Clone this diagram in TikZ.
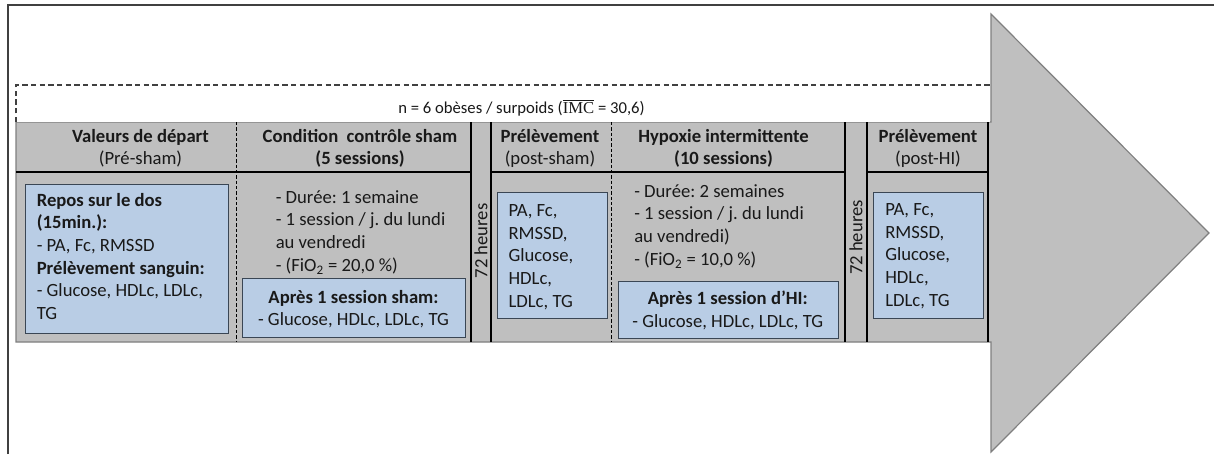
\documentclass[tikz,border=0pt]{standalone}
\usepackage{fontspec}
\setmainfont{Carlito}
\newfontfamily\serifimc{Liberation Serif}
\usetikzlibrary{fit}
\definecolor{arrowgray}{HTML}{BFBFBF}
\definecolor{edgegray}{HTML}{7F7F7F}
\definecolor{boxblue}{HTML}{B9CDE5}
\definecolor{boxedge}{HTML}{3A4654}
\definecolor{framegray}{HTML}{404040}
\tikzset{
  txt/.style={font=\frenchspacing\fontsize{14}{17}\selectfont, inner sep=0pt, text=black!90},
  bodytxt/.style={txt, align=left, anchor=north west},
  headtxt/.style={txt, align=center, anchor=north},
  bluebox/.style={draw=boxedge, fill=boxblue, line width=0.75pt, inner sep=0pt},
  solidsep/.style={line width=1.1pt, black},
  dashsep/.style={line width=0.75pt, black, dash pattern=on 2.5pt off 1.5pt},
}
\begin{document}
\begin{tikzpicture}[x=0.75pt,y=-0.75pt]
\useasboundingbox (0,0) rectangle (1214,454);
% outer frame
\draw[framegray, line width=1.1pt] (8,454) -- (8,5) -- (1214,5);
% big arrow
\draw[fill=arrowgray, draw=edgegray, line width=0.9pt]
  (16,122) -- (991,122) -- (991,14) -- (1209,233) -- (991,452) -- (991,342) -- (16,342) -- cycle;
% white dashed band
\fill[white] (16,85) rectangle (990.4,121.6);
\draw[framegray, line width=1.4pt, dash pattern=on 4pt off 2.5pt] (16,122) -- (16,85) -- (991,85);
\node[txt, font=\frenchspacing\fontsize{12.5}{15}\selectfont, anchor=base] (pop) at (521.5,113) {n = 6 obèses / surpoids ($\overline{\hbox{\serifimc IMC}}$ = 30,6)};
% header lines
\draw[solidsep] (16,172) -- (471,172);
\draw[solidsep] (491,172) -- (845,172);
\draw[solidsep] (867,172) -- (988,172);
% column separators
\foreach \xx in {471,491,845,867,988} \draw[solidsep] (\xx,122) -- (\xx,342);
\foreach \xx in {236,611} \draw[dashsep] (\xx,122) -- (\xx,342);
% headers
\node[headtxt] (h1) at (140.5,126.1) {\strut\textbf{Valeurs de départ}\\(Pré-sham)};
\node[headtxt] (h2) at (360,126.1) {\strut\textbf{Condition~ contrôle sham}\\\textbf{(5 sessions)}};
\node[headtxt] (h3) at (550,126.1) {\strut\textbf{Prélèvement}\\(post-sham)};
\node[headtxt] (h4) at (723.5,126.1) {\strut\textbf{Hypoxie intermittente}\\\textbf{(10 sessions)}};
\node[headtxt] (h5) at (928,126.1) {\strut\textbf{Prélèvement}\\(post-HI)};
% 72 heures
\node[txt, rotate=90] (w1) at (481,241) {72 heures};
\node[txt, rotate=90] (w2) at (856,237.5) {72 heures};
% blue boxes
\node[bluebox, fit={(25,184)(228,333)}] (b1) {};
\node[bluebox, fit={(242,278)(465,337)}] (b2) {};
\node[bluebox, fit={(497,192)(607,318)}] (b3) {};
\node[bluebox, fit={(618,281)(838,338)}] (b4) {};
\node[bluebox, fit={(873,192)(983,318)}] (b5) {};
% body texts
\node[bodytxt] (t1) at (36.5,190.1) {\strut\textbf{Repos sur le dos}\\\textbf{(15min.):}\\- PA, Fc, RMSSD\\\textbf{Prélèvement sanguin:}\\- Glucose, HDLc, LDLc,\\TG};
\node[bodytxt] (t2) at (275.5,187.1) {\strut- Durée: 1 semaine\\- 1 session / j. du lundi\\au vendredi\\- (FiO\textsubscript{2} = 20,0 \%)};
\node[headtxt] (t2b) at (353.5,286.9) {\strut\textbf{Après 1 session sham:}\\- Glucose, HDLc, LDLc, TG};
\node[bodytxt] (t3) at (508.3,200.3) {\strut PA, Fc,\\RMSSD,\\Glucose,\\HDLc,\\LDLc, TG};
\node[bodytxt] (t4) at (634,181.1) {\strut- Durée: 2 semaines\\- 1 session / j. du lundi\\au vendredi)\\- (FiO\textsubscript{2} = 10,0 \%)};
\node[headtxt] (t4b) at (727.8,288.6) {\strut\textbf{Après 1 session d’HI:}\\- Glucose, HDLc, LDLc, TG};
\node[bodytxt] (t5) at (885,199.3) {\strut PA, Fc,\\RMSSD,\\Glucose,\\HDLc,\\LDLc, TG};
\end{tikzpicture}
\end{document}
